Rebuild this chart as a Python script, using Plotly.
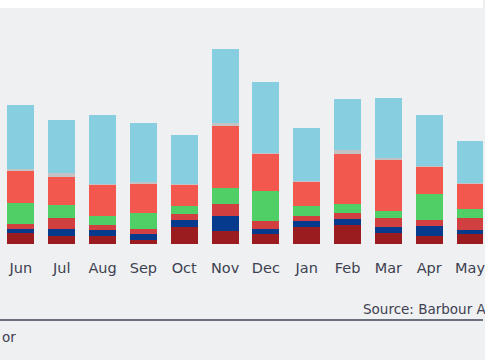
import plotly.graph_objects as go

months = ["Jun", "Jul", "Aug", "Sep", "Oct", "Nov", "Dec", "Jan", "Feb", "Mar", "Apr", "May"]

# stacked segment values (bottom to top)
s1_darkred = [10.7, 8.4, 7.7, 3.7, 16.7, 13.4, 9.7, 17.0, 18.7, 11.0, 8.0, 9.7]
s2_navy    = [4.7, 7.0, 6.0, 6.0, 7.7, 14.6, 5.7, 6.4, 6.3, 6.4, 9.7, 4.6]
s3_red     = [4.6, 10.6, 5.0, 5.3, 6.0, 11.7, 7.6, 4.3, 6.4, 8.3, 6.6, 11.7]
s4_green   = [21.4, 12.7, 9.3, 16.3, 7.3, 16.3, 29.7, 10.3, 9.0, 7.3, 26.0, 9.0]
s5_coral   = [32.3, 28.7, 31.0, 29.0, 21.7, 62.4, 37.3, 24.4, 50.0, 51.4, 27.4, 25.3]
s6_grey    = [1.5, 4.0, 1.3, 1.3, 0.7, 2.6, 1.4, 1.0, 3.3, 1.6, 0.5, 0.5]
s7_blue    = [64.3, 52.3, 68.3, 59.7, 48.7, 74.4, 70.6, 53.0, 51.7, 60.4, 51.0, 42.6]

series = [
    (s1_darkred, "#9b1c1f"),
    (s2_navy, "#053a8d"),
    (s3_red, "#d23f40"),
    (s4_green, "#50cf67"),
    (s5_coral, "#f2584e"),
    (s6_grey, "#c3c3c6"),
    (s7_blue, "#87cee0"),
]

BG = "#eff0f2"
W, H = 485, 360
top_m, bot_m = 8, 116
plot_h = H - top_m - bot_m
TXT = "#3d4150"

fig = go.Figure()
for vals, col in series:
    fig.add_trace(go.Bar(x=months, y=vals, marker=dict(color=col, line=dict(width=0)),
                         showlegend=False, hoverinfo="skip"))

fig.update_layout(
    width=W, height=H,
    barmode="stack", bargap=0.34,
    paper_bgcolor=BG, plot_bgcolor=BG,
    margin=dict(l=0, r=0, t=top_m, b=bot_m),
    font=dict(family="DejaVu Sans, sans-serif", color=TXT),
    xaxis=dict(range=[-0.512, 11.317], showgrid=False, zeroline=False, showline=False,
               ticks="", tickfont=dict(size=14.5, color=TXT), ticklabelstandoff=13),
    yaxis=dict(range=[0, plot_h], visible=False),
    shapes=[
        dict(type="rect", xref="paper", yref="paper", x0=0, x1=1,
             y0=1, y1=1 + top_m / plot_h, fillcolor="white", line=dict(width=0), layer="below"),
        dict(type="line", xref="paper", yref="paper", x0=0, x1=1,
             y0=-(320 - (H - bot_m)) / plot_h, y1=-(320 - (H - bot_m)) / plot_h,
             line=dict(color="#6a6f7e", width=2)),
    ],
    annotations=[
        dict(text="Source: Barbour ABI", xref="paper", yref="paper",
             x=362 / W, y=-(309 - (H - bot_m)) / plot_h, xanchor="left", yanchor="middle",
             showarrow=False, font=dict(size=13.5, color=TXT)),
        dict(text="or", xref="paper", yref="paper",
             x=0, y=-(337 - (H - bot_m)) / plot_h, xanchor="left", yanchor="middle",
             showarrow=False, font=dict(size=13.5, color=TXT)),
    ],
)

fig.write_html("out.html", config={"displayModeBar": False},
               post_script="document.body.style.margin='0';document.body.style.overflow='hidden';")
